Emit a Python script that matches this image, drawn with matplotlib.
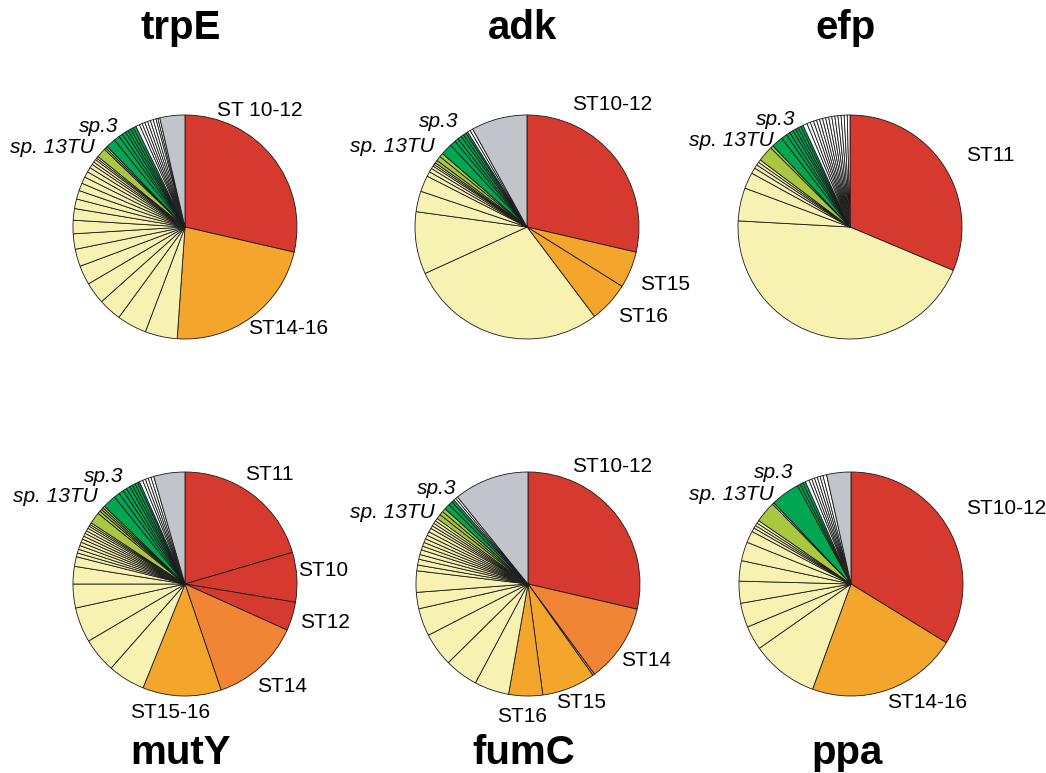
import matplotlib.pyplot as plt

plt.rcParams['font.family'] = ['Liberation Sans', 'DejaVu Sans']

# colours of the slice groups
colours = {
    'R': '#d63a2f',   # ST red
    'O': '#f4a52c',   # orange
    'D': '#ef8535',   # dark orange
    'Y': '#f7f2b1',   # pale yellow
    'L': '#a9c840',   # light green
    'G': '#00a651',   # green
    'W': '#ffffff',   # white
    'S': '#c1c4cb',   # grey
}

# slice sizes (degrees), clockwise from the top, grouped by colour
trpE = [('R', [103]), ('O', [81]),
        ('Y', [16.7, 15.5, 12, 11.3, 10, 9, 8, 7, 6, 5, 4.5, 4, 3.5, 3, 2.5, 2, 1.5, 1.5, 1, 1]),
        ('L', [5, 1, 1]),
        ('G', [5, 3, 2, 2, 1.5, 1.5, 1.5, 1.5]),
        ('W', [2, 1.5, 1.5, 1.5, 1.5, 1.5, 1.5, 1, 1]),
        ('S', [13])]
adk = [('R', [103]), ('O', [19, 21]),
       ('Y', [102.5, 32.4, 10.7, 8.4, 2.5, 2, 1.5, 1, 1]),
       ('L', [1.5, 2.5, 2]),
       ('G', [6, 3, 2, 2, 1.5, 1.5, 1]),
       ('W', [1.5, 1.5]),
       ('S', [29])]
efp = [('R', [113]),
       ('Y', [160.6, 17.2, 8.4, 3, 2, 1.6, 1.5]),
       ('L', [8.2, 1.5]),
       ('G', [6, 3, 2, 2, 1.5, 1.5, 1.5, 1.3]),
       ('W', [2.2, 1.8, 1.8, 1.6, 1.6, 1.6, 1.6, 1.6, 1.6, 1.6, 1.6, 1.6, 1.6, 1.6, 1.4])]
mutY = [('R', [73.6, 25.8, 14.9]), ('D', [46.9]), ('O', [40.8]),
        ('Y', [19.3, 18.1, 18.2, 12.4, 9.1, 5, 2, 2, 2, 1.8, 1.8, 1.6, 1.6, 1.5, 1.5, 1.2, 1, 1]),
        ('L', [6, 1.5, 1.2, 1.1, 1.1]),
        ('G', [7, 3, 2.5, 2, 2, 1.5, 1.5, 1.5, 1]),
        ('W', [1.8, 1.5, 1.5, 1.5, 1.5]),
        ('S', [16.2])]
fumC = [('R', [103]), ('D', [40.6]), ('O', [1, 27.8, 17.6]),
        ('Y', [18, 17.4, 17.4, 14.4, 8.5, 11.1, 3, 3, 2.5, 2.5, 2, 2, 2, 2, 2, 2, 1.5, 1.5, 1.5, 1.5]),
        ('L', [2.5, 2, 1.9]),
        ('G', [3, 2, 1.4]),
        ('W', [1.2, 1.2]),
        ('S', [39])]
ppa = [('R', [121.6]), ('O', [78.4]),
       ('Y', [34.9, 12.5, 12.6, 11.4, 10.6, 9.8, 6.1, 2, 1.5, 1.5, 1.5]),
       ('L', [11, 1]),
       ('G', [15, 1.5, 1.5, 1.5]),
       ('W', [2, 1.5, 1.5, 1.5, 1.5, 1.5, 1.9]),
       ('S', [12.6])]

# ST labels: text, left x, centre y (pixels)
trpE_lab = [('ST 10-12', 217, 110), ('ST14-16', 248, 328)]
adk_lab = [('ST10-12', 572, 104), ('ST15', 640, 284), ('ST16', 618, 316)]
efp_lab = [('ST11', 966, 155)]
mutY_lab = [('ST11', 245, 475), ('ST10', 298, 570), ('ST12', 300, 623),
            ('ST14', 257, 686), ('ST15-16', 130, 712)]
fumC_lab = [('ST10-12', 572, 466), ('ST14', 621, 660), ('ST15', 556, 702), ('ST16', 497, 716)]
ppa_lab = [('ST10-12', 966, 508), ('ST14-16', 887, 703)]

W, H = 1046, 773
R = 112
fig = plt.figure(figsize=(W / 100, H / 100), dpi=100)


def draw(name, groups, labels, cx, cy, sp3, sp13, title_y):
    vals, cols = [], []
    for kind, v in groups:
        vals += v
        cols += [colours[kind]] * len(v)
    ax = fig.add_axes([(cx - R) / W, 1 - (cy + R) / H, 2 * R / W, 2 * R / H])
    ax.pie(vals, colors=cols, startangle=90, counterclock=False, radius=1,
           wedgeprops=dict(edgecolor='#1a1a1a', linewidth=0.6))
    ax.set_xlim(-1, 1)
    ax.set_ylim(-1, 1)
    ax.set_aspect('equal')
    ax.axis('off')
    for t, px, py in labels:
        ax.text((px - cx) / R, (cy - py) / R, t, fontsize=15,
                ha='left', va='center', clip_on=False)
    ax.text((sp3[0] - cx) / R, (cy - sp3[1]) / R, 'sp.3', fontsize=15, style='italic',
            ha='right', va='center', clip_on=False)
    ax.text((sp13[0] - cx) / R, (cy - sp13[1]) / R, 'sp. 13TU', fontsize=15, style='italic',
            ha='right', va='center', clip_on=False)
    fig.text(cx / W - 0.004, 1 - title_y / H, name, fontsize=29, fontweight='bold',
             ha='center', va='center')


draw('trpE', trpE, trpE_lab, 185, 227, (118, 126), (95, 147), 28)
draw('adk', adk, adk_lab, 527, 227, (458, 121), (435, 146), 28)
draw('efp', efp, efp_lab, 850, 227, (795, 119), (774, 140), 28)
draw('mutY', mutY, mutY_lab, 185, 584, (123, 477), (98, 497), 753)
draw('fumC', fumC, fumC_lab, 528, 584, (456, 488), (435, 512), 753)
draw('ppa', ppa, ppa_lab, 851, 584, (793, 473), (774, 495), 753)

fig.savefig('out.png', dpi=100)
